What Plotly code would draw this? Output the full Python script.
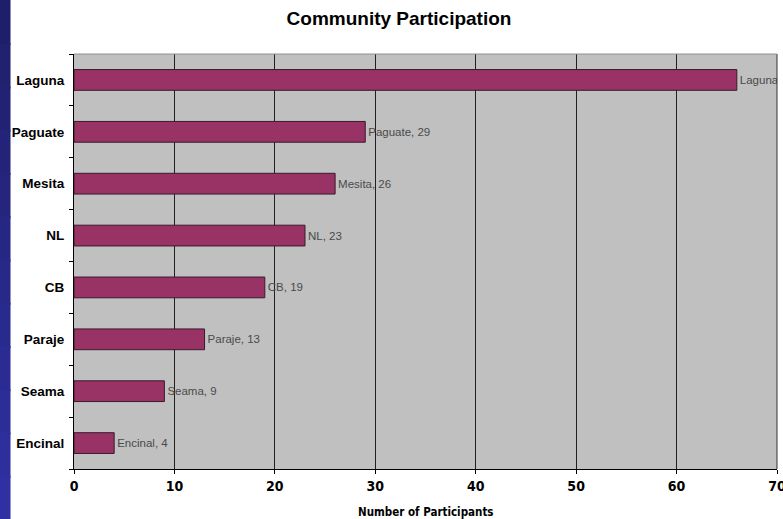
import plotly.graph_objects as go

communities = ["Laguna", "Paguate", "Mesita", "NL", "CB", "Paraje", "Seama", "Encinal"]
participants = [66, 29, 26, 23, 19, 13, 9, 4]
x_ticks = [0, 10, 20, 30, 40, 50, 60, 70]

W, H = 783, 519
L, R, T, B = 74, 6, 54, 50
pw = W - L - R
ph = H - T - B

fig = go.Figure()
fig.add_trace(go.Bar(
    y=communities[::-1],
    x=participants[::-1],
    orientation="h",
    width=0.4,
    marker=dict(color="#993366", line=dict(color="#3a1a2a", width=1)),
    texttemplate="%{y}, %{x}",
    textposition="outside",
    textfont=dict(family="Liberation Sans, Arial", size=11.5, color="#4a4a4a"),
    constraintext="none",
    cliponaxis=True,
    hoverinfo="skip",
))

fig.update_layout(
    width=W, height=H,
    margin=dict(l=L, r=R, t=T, b=B, autoexpand=False),
    paper_bgcolor="white",
    plot_bgcolor="#c0c0c0",
    showlegend=False,
    title=dict(text="Community Participation", x=399 / W, xanchor="center",
               y=1 - 18 / H, yanchor="middle",
               font=dict(family="Liberation Sans, Arial", size=19, color="black", weight="bold")),
    xaxis=dict(range=[0, 70], tickvals=x_ticks, showgrid=True, gridcolor="#202020", gridwidth=1,
               showline=True, linecolor="black", linewidth=1, ticks="outside", ticklen=4,
               tickcolor="black", zeroline=False, ticklabeloverflow="allow", automargin=False,
               tickfont=dict(family="DejaVu Sans Condensed, Liberation Sans", size=14,
                             color="black", weight="bold")),
    yaxis=dict(showline=True, linecolor="black", linewidth=1, ticks="outside", ticklen=4,
               tickson="boundaries", tickcolor="black", showgrid=False, ticklabelstandoff=6,
               automargin=False,
               tickfont=dict(family="Liberation Sans, Arial", size=13.5, color="black", weight="bold")),
)

fig.add_annotation(text="Number of Participants", xref="paper", yref="paper", x=0.5, y=0,
                   yshift=-43, yanchor="middle", showarrow=False,
                   font=dict(family="DejaVu Sans Condensed, Liberation Sans", size=11.5,
                             color="black", weight="bold"))

# Right edge of plot (70 gridline) and top border
fig.add_shape(type="line", xref="paper", yref="paper", x0=1, x1=1, y0=0, y1=1,
              line=dict(color="#303030", width=1), layer="above")
fig.add_shape(type="line", xref="paper", yref="paper", x0=0, x1=1, y0=1, y1=1,
              line=dict(color="#909090", width=1), layer="above")

# Left blue slide strip (vertical gradient), bands overlap to avoid seams
n = 12
top_rgb, bot_rgb = (30, 31, 106), (48, 48, 162)
band = H / n
for i in range(n):
    f = i / (n - 1)
    c = tuple(round(top_rgb[k] + (bot_rgb[k] - top_rgb[k]) * f) for k in range(3))
    y_top = 1 + T / ph - i * band / ph
    y_bot = 1 + T / ph - ((i + 1) * band + 2) / ph
    fig.add_shape(type="rect", xref="paper", yref="paper",
                  x0=(-2 - L) / pw, x1=(10 - L) / pw, y0=y_bot, y1=y_top,
                  fillcolor="rgb(%d,%d,%d)" % c, line=dict(color="rgb(%d,%d,%d)" % c, width=1),
                  layer="above")

fig.write_html("out.html")
